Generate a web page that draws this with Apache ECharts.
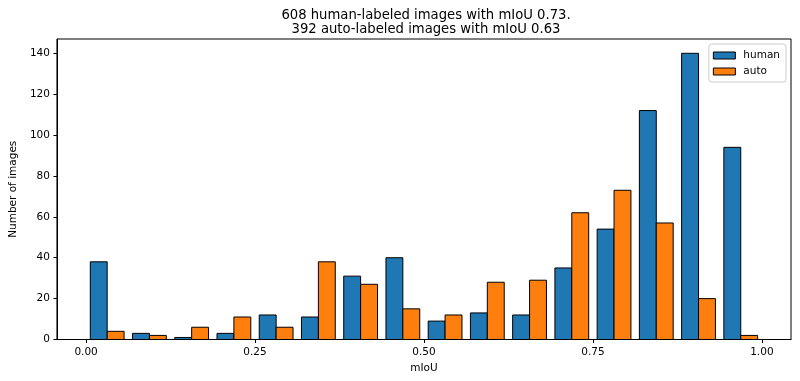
<!DOCTYPE html>
<html>
<head>
<meta charset="utf-8">
<script src="https://cdn.jsdelivr.net/npm/echarts@6/dist/echarts.min.js"></script>
<style>html,body{margin:0;padding:0;background:#fff}#chart{width:800px;height:381px}</style>
</head>
<body>
<div id="chart"></div>
<script>
const titleLines = ['608 human-labeled images with mIoU 0.73.', '392 auto-labeled images with mIoU 0.63'];
const binCount = 16;
const humanCounts = [38, 3, 1, 3, 12, 11, 31, 40, 9, 13, 12, 35, 54, 112, 140, 94];
const autoCounts = [4, 2, 6, 11, 6, 38, 27, 15, 12, 28, 29, 62, 73, 57, 20, 2];
const xTicks = [0, 0.25, 0.5, 0.75, 1.0];
const yTicks = [0, 20, 40, 60, 80, 100, 120, 140];
const seriesNames = ['human', 'auto'];
const colors = ['#1f77b4', '#ff7f0e'];

const binW = 1 / binCount;
const rwidth = 0.8;
const font = 'DejaVu Sans';

function makeSeries(idx, counts) {
  return {
    name: seriesNames[idx],
    type: 'custom',
    itemStyle: { color: colors[idx], borderColor: '#000', borderWidth: 1 },
    data: counts.map((v, i) => [i, v]),
    encode: { x: 0, y: 1 },
    renderItem: function (params, api) {
      const i = api.value(0);
      const v = api.value(1);
      const start = i * binW + binW * (1 - rwidth) / 2 + idx * binW * rwidth / 2;
      const end = start + binW * rwidth / 2;
      const p0 = api.coord([start, v]);
      const p1 = api.coord([end, 0]);
      return {
        type: 'rect',
        shape: { x: p0[0], y: p0[1], width: p1[0] - p0[0], height: p1[1] - p0[1] },
        style: { fill: colors[idx], stroke: '#000', lineWidth: 1 }
      };
    }
  };
}

const chart = echarts.init(document.getElementById('chart'), null, { renderer: 'canvas' });
chart.setOption({
  animation: false,
  backgroundColor: '#fff',
  textStyle: { fontFamily: font },
  title: {
    text: titleLines.join('\n'),
    left: 421, top: 4,
    textAlign: 'center',
    textStyle: { fontFamily: font, fontSize: 13.2, fontWeight: 'normal', color: '#000', lineHeight: 14 }
  },
  grid: { left: 52, right: 9, top: 39, bottom: 41.5, show: true, borderColor: '#000', borderWidth: 1, backgroundColor: 'transparent' },
  legend: {
    orient: 'vertical', right: 14, top: 44,
    itemWidth: 22, itemHeight: 7, itemGap: 5,
    padding: [6, 6, 5, 4],
    backgroundColor: '#fff', borderColor: '#ccc', borderWidth: 1, borderRadius: 3,
    icon: 'rect',
    textStyle: { fontFamily: font, fontSize: 10.5, color: '#000', lineHeight: 11, padding: [0, 0, 0, 3] },
    data: seriesNames.map((n, k) => ({ name: n, itemStyle: { color: colors[k], borderColor: '#000', borderWidth: 1 } }))
  },
  xAxis: {
    type: 'value',
    min: -0.0431, max: 1.0431,
    name: 'mIoU', nameLocation: 'middle', nameGap: 20,
    nameTextStyle: { fontFamily: font, fontSize: 10.5, color: '#000' },
    axisLine: { show: true, onZero: false, lineStyle: { color: '#000', width: 1 } },
    axisTick: { show: true, inside: false, length: 3.5, customValues: xTicks, lineStyle: { color: '#000' } },
    axisLabel: { show: true, margin: 7, customValues: xTicks, fontFamily: font, fontSize: 10.5, color: '#000',
      formatter: v => v.toFixed(2) },
    splitLine: { show: false }
  },
  yAxis: {
    type: 'value',
    min: 0, max: 147,
    name: 'Number of images', nameLocation: 'middle', nameGap: 34, nameRotate: 90,
    nameTextStyle: { fontFamily: font, fontSize: 10.5, color: '#000' },
    axisLine: { show: true, onZero: false, lineStyle: { color: '#000', width: 1 } },
    axisTick: { show: true, inside: false, length: 3.5, customValues: yTicks, lineStyle: { color: '#000' } },
    axisLabel: { show: true, margin: 7, customValues: yTicks, fontFamily: font, fontSize: 10.5, color: '#000' },
    splitLine: { show: false }
  },
  series: [makeSeries(0, humanCounts), makeSeries(1, autoCounts)]
});
</script>
</body>
</html>
